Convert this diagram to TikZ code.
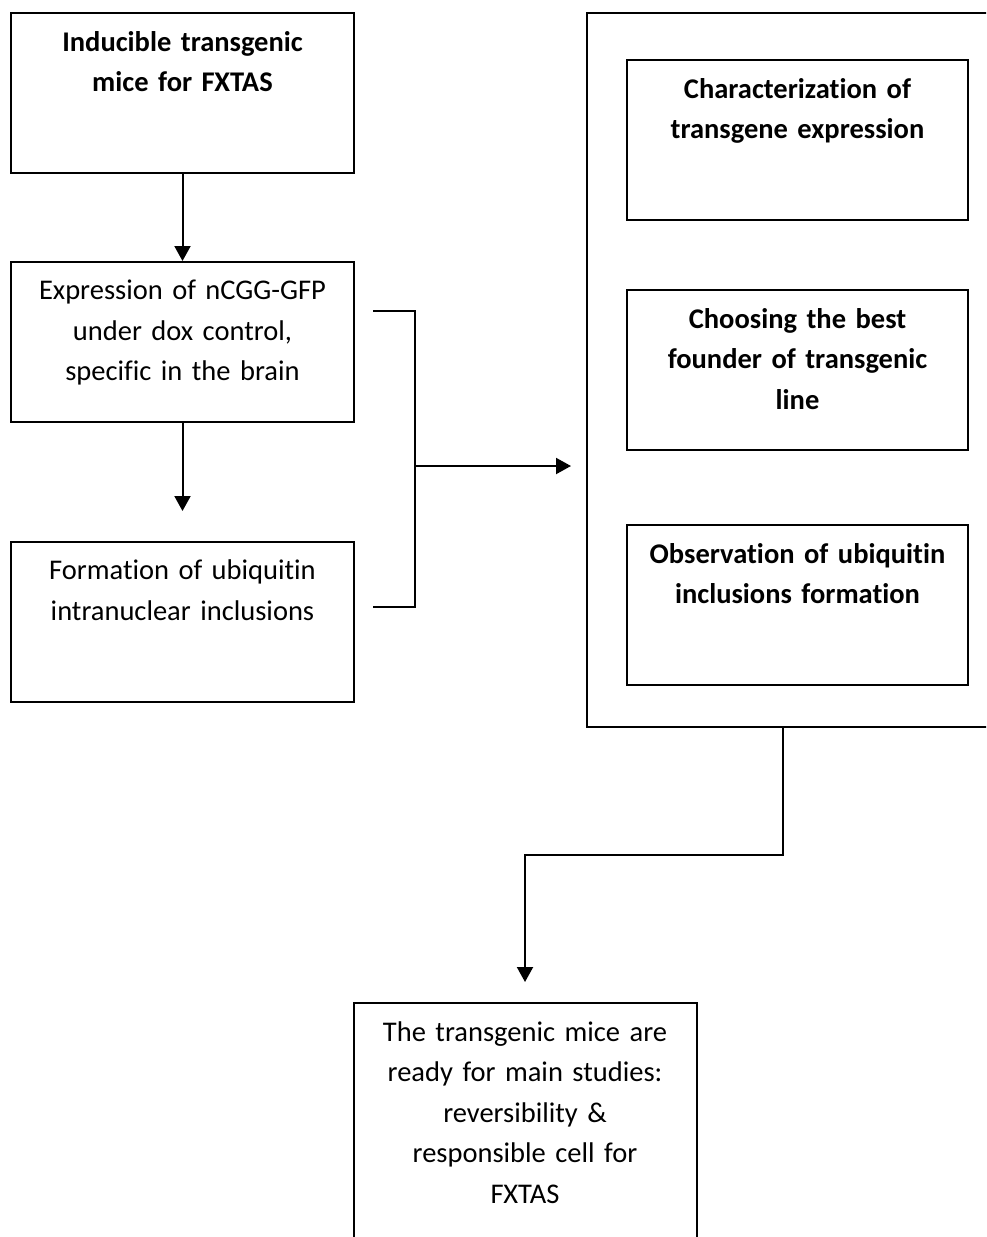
\documentclass[tikz,border=0pt]{standalone}
\usepackage{fontspec}
\setmainfont[Ligatures=NoCommon]{Carlito}
\usetikzlibrary{positioning,arrows.meta}

\begin{document}
\begin{tikzpicture}[x=1pt,y=-1pt,
    box/.style={draw,line width=2pt,minimum width=343pt,minimum height=160pt,inner sep=0pt},
    txt/.style={inner sep=0pt,text width=335pt,align=center,font=\fontsize{28.5}{40.5}\selectfont},
    bold/.style={txt,font=\fontsize{28.5}{40.5}\selectfont\bfseries},
    con/.style={line width=2pt},
    arr/.style={con,-{Triangle[width=16pt,length=15pt]}}]
    \useasboundingbox (0,0) rectangle (986,1237);
    \clip (0,0) rectangle (986,1237);

    % left column
    \node[box] (init) at (182.5,93) {};
    \node[bold,below=19pt of init.north] (initT) {Inducible transgenic\\mice for FXTAS};
    \node[box] (expr) at (182.5,342) {};
    \node[txt,below=19pt of expr.north] (exprT) {Expression of nCGG-GFP\\under dox control,\\specific in the brain};
    \node[box] (form) at (182.5,622) {};
    \node[txt,below=19pt of form.north] (formT) {Formation of ubiquitin\\intranuclear inclusions};

    % right column
    \node[draw,line width=2pt,minimum width=420pt,minimum height=714pt,inner sep=0pt] (outer) at (797,370) {};
    \node[box,minimum width=341pt] (charz) at (797.5,140) {};
    \node[bold,below=19pt of charz.north] (charzT) {Characterization of\\transgene expression};
    \node[box,minimum width=341pt] (found) at (797.5,370) {};
    \node[bold,below=19pt of found.north] (foundT) {Choosing the best\\founder of transgenic\\line};
    \node[box,minimum width=341pt] (obs) at (797.5,605) {};
    \node[bold,below=19pt of obs.north] (obsT) {Observation of ubiquitin\\inclusions formation};

    % result
    \node[box,minimum height=257pt] (ready) at (525,1131.5) {};
    \node[txt,below=19pt of ready.north] (readyT) {The transgenic mice are\\ready for main studies:\\reversibility \&\\responsible cell for\\FXTAS};

    % connectors
    \draw[arr] (init) -- (expr);
    \draw[arr] (expr) -- ([yshift=30pt]form.north);
    \coordinate (brTop) at ([shift={(18pt,31pt)}]expr.east);
    \coordinate (brBot) at ([shift={(18pt,15pt)}]form.east);
    \draw[con] (brTop) -- ++(42,0) coordinate (brJ) |- (brBot);
    \coordinate (brMid) at (414,466);
    \draw[arr] (brMid) -- ([xshift=-15pt]outer.west |- brMid);
    \coordinate (outS) at ([xshift=197pt]outer.south west);
    \draw[arr] (outS) -- ++(0,127) -| ([yshift=20pt]ready.north);
\end{tikzpicture}
\end{document}
